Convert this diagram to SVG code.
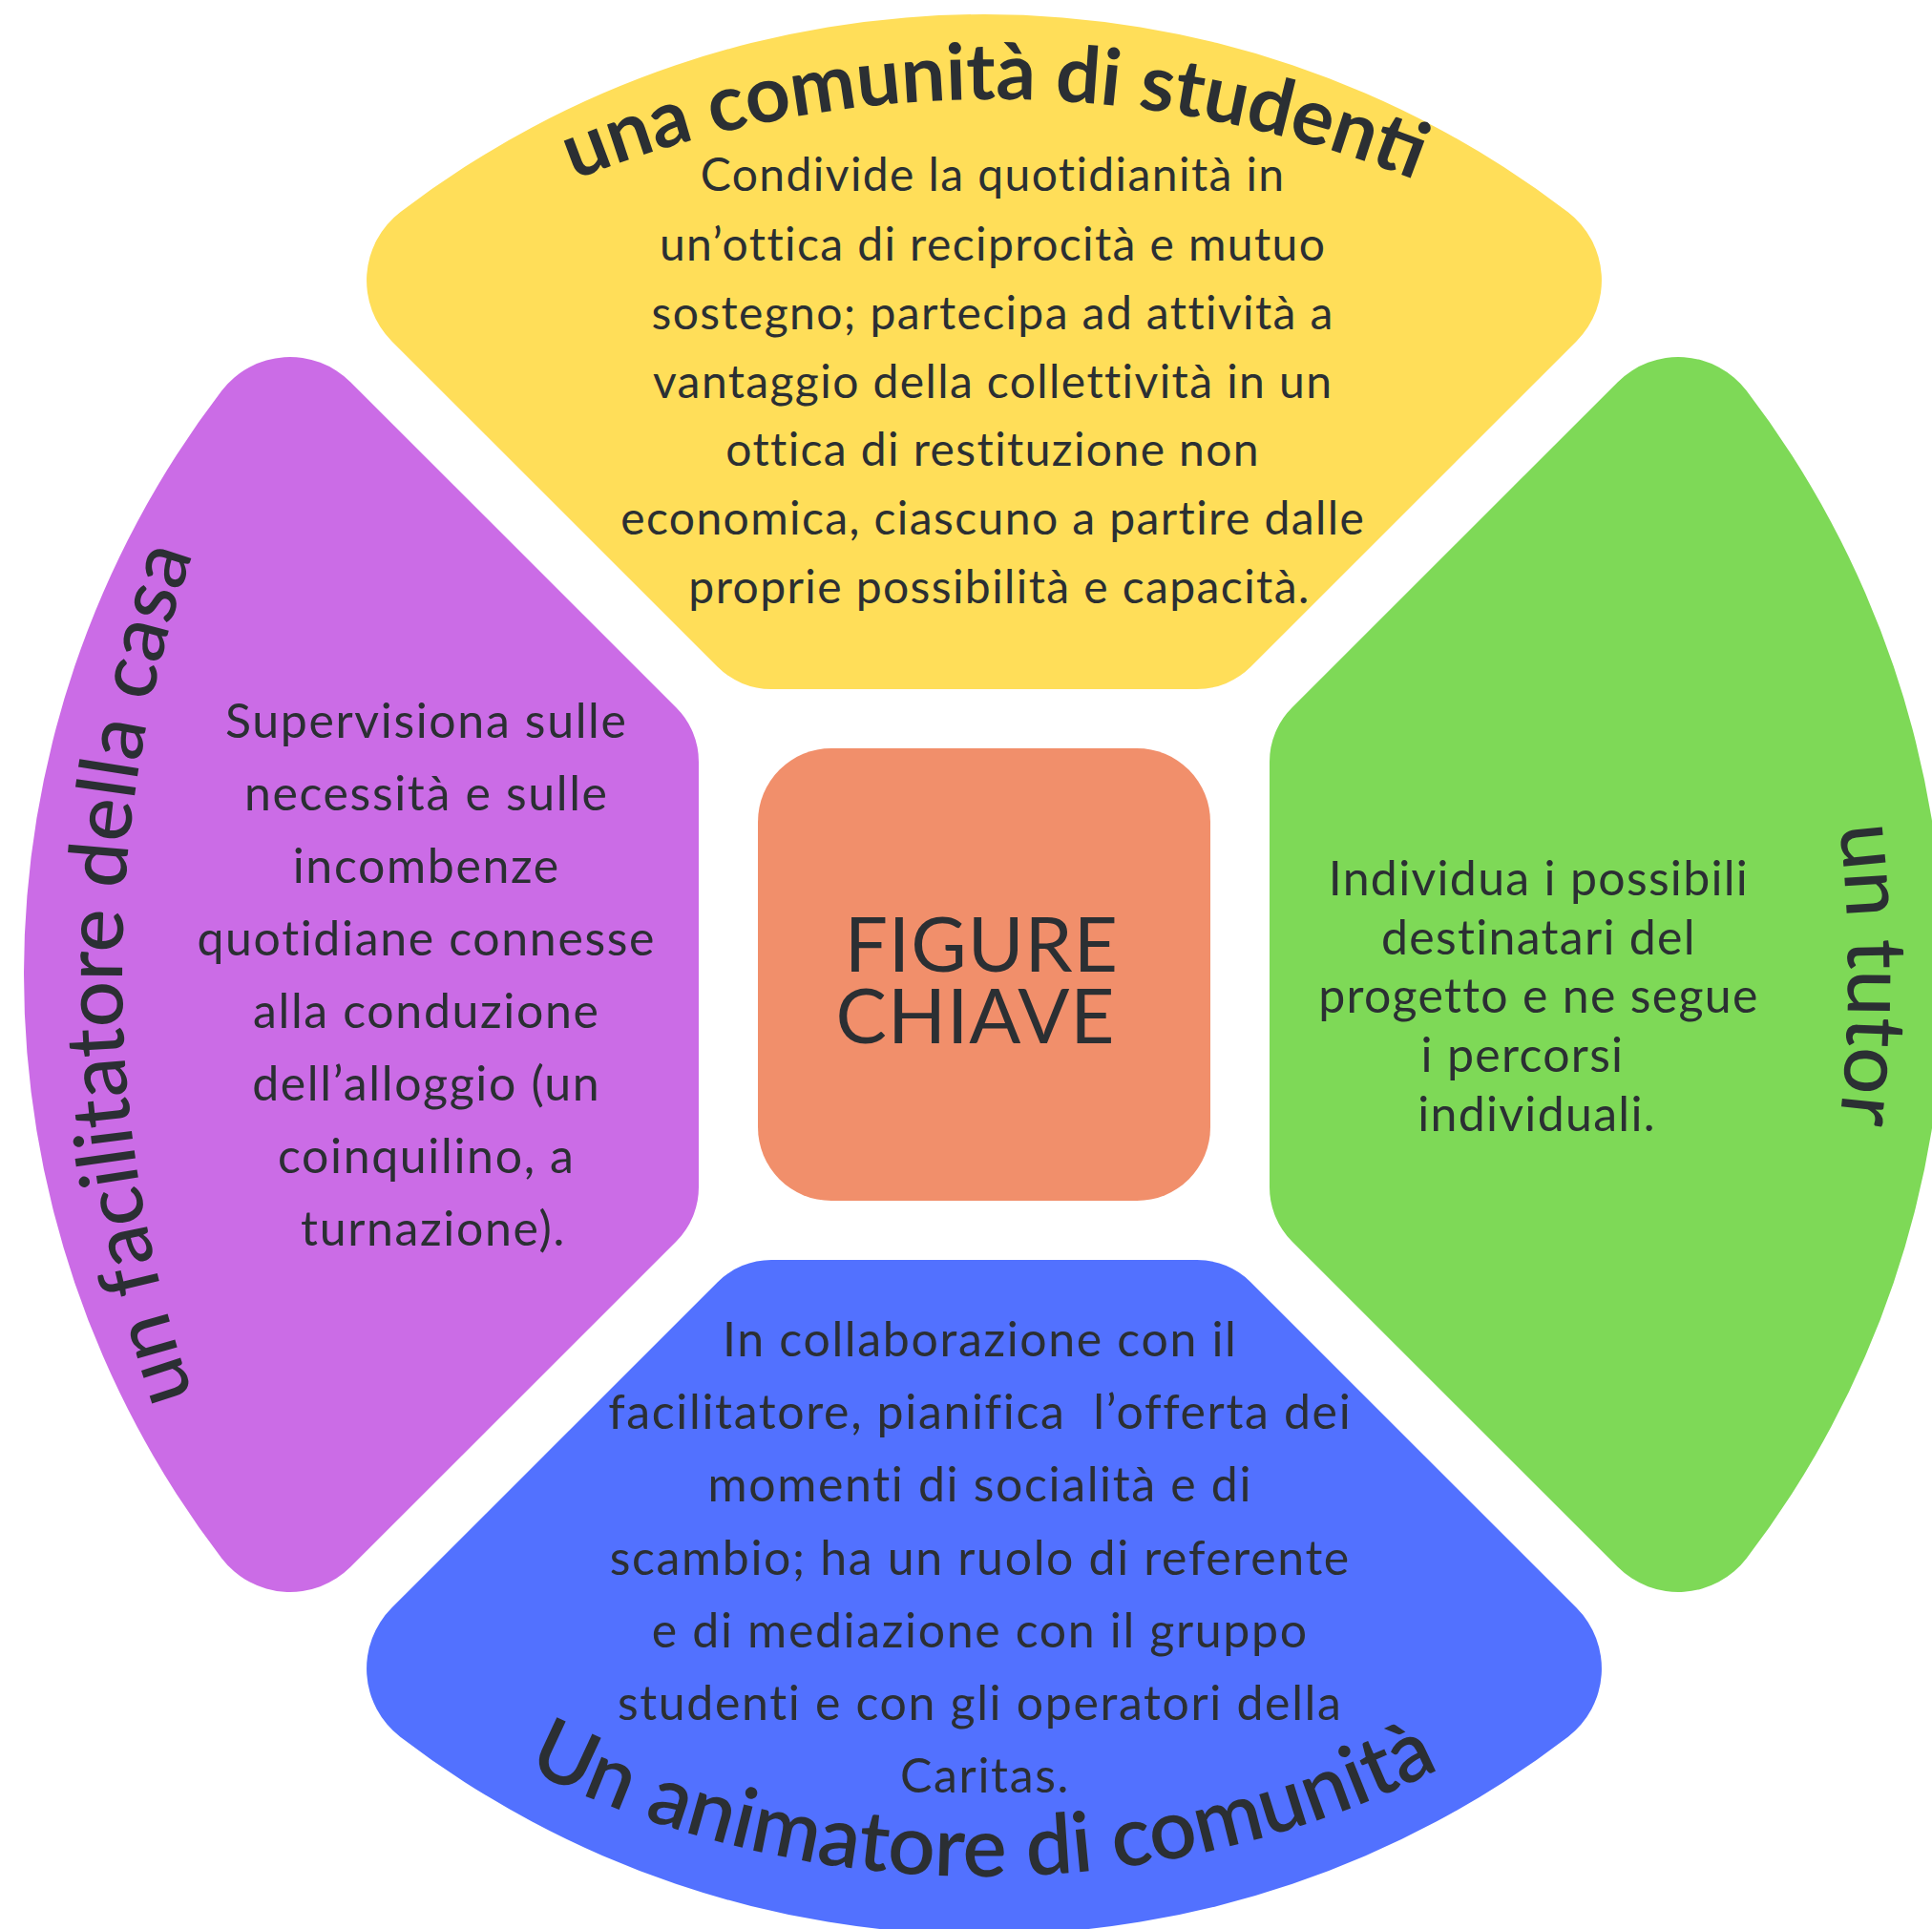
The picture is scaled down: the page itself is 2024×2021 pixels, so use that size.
<svg xmlns="http://www.w3.org/2000/svg" width="2024" height="2021" viewBox="0 0 2024 2021">
<style>
.body{font-family:Lato,"Open Sans","Liberation Sans",sans-serif;font-size:50px;letter-spacing:1.65px;fill:#2B2F33;text-anchor:middle}
.ybody{font-size:48px;letter-spacing:1.4px}
.gbody{letter-spacing:1.3px}
.title{font-family:Lato,"Open Sans","Liberation Sans",sans-serif;fill:#2B2F33;text-anchor:middle}
.key{font-family:Lato,"Open Sans","Liberation Sans",sans-serif;font-size:80px;letter-spacing:1px;fill:#2B2F33;text-anchor:middle}
</style>
<defs>
<path id="petal" d="M -611.67 -798.66 A 1006 1006 0 0 1 611.67 -798.66 A 90 90 0 0 1 620.6 -663.6 L 279.43 -322.43 A 80 80 0 0 1 222.86 -299 L -222.86 -299 A 80 80 0 0 1 -279.43 -322.43 L -620.6 -663.6 A 90 90 0 0 1 -611.67 -798.66 Z"/>
<path id="arcTop" d="M -148 1294 A 1190 1190 0 0 1 2232 1294"/>
<path id="arcBottom" d="M -40 896 A 1070 1070 0 0 0 2100 896"/>
<path id="arcLeft" d="M 1478 2371 A 1350 1350 0 0 1 1478 -329"/>
<path id="arcRight" d="M 586 -329 A 1350 1350 0 0 1 586 2371"/>
</defs>
<rect width="2024" height="2021" fill="#FFFFFF"/>

<g id="node-comunita-studenti">
<use href="#petal" transform="translate(1031 1021)" fill="#FFDE59"/>
<text class="title" font-size="82" font-weight="700"><textPath href="#arcTop" startOffset="50%">una comunità di studenti</textPath></text>
<text class="body ybody">
<tspan x="1047" y="200">Condivide la quotidianità in</tspan>
<tspan x="1047" y="273">un’ottica di reciprocità e mutuo</tspan>
<tspan x="1047" y="345">sostegno; partecipa ad attività a</tspan>
<tspan x="1047" y="417">vantaggio della collettività in un</tspan>
<tspan x="1047" y="488">ottica di restituzione non</tspan>
<tspan x="1047" y="560">economica, ciascuno a partire dalle</tspan>
<tspan x="1047" y="632">proprie possibilità e capacità.</tspan>
</text>
</g>

<g id="node-tutor">
<use href="#petal" transform="translate(1031 1021) rotate(90)" fill="#7ED957"/>
<text class="title" font-size="87" font-weight="500"><textPath href="#arcRight" startOffset="50%">un tutor</textPath></text>
<text class="body gbody">
<tspan x="1619" y="938">Individua i possibili</tspan>
<tspan x="1619" y="1000">destinatari del</tspan>
<tspan x="1619" y="1061">progetto e ne segue</tspan>
<tspan x="1602" y="1123">i percorsi</tspan>
<tspan x="1610" y="1185">individuali.</tspan>
</text>
</g>

<g id="node-animatore">
<use href="#petal" transform="translate(1031 1021) rotate(180)" fill="#5271FF"/>
<text class="title" font-size="87" font-weight="600"><textPath href="#arcBottom" startOffset="50%">Un animatore di comunità</textPath></text>
<text class="body">
<tspan x="1034" y="1421">In collaborazione con il</tspan>
<tspan x="1034" y="1497">facilitatore, pianifica&#160; l’offerta dei</tspan>
<tspan x="1034" y="1573">momenti di socialità e di</tspan>
<tspan x="1034" y="1650">scambio; ha un ruolo di referente</tspan>
<tspan x="1034" y="1726">e di mediazione con il gruppo</tspan>
<tspan x="1034" y="1802">studenti e con gli operatori della</tspan>
<tspan x="1032" y="1878">Caritas.</tspan>
</text>
</g>

<g id="node-facilitatore">
<use href="#petal" transform="translate(1031 1021) rotate(270)" fill="#CB6CE6"/>
<text class="title" font-size="85" font-weight="500"><textPath href="#arcLeft" startOffset="50%">un facilitatore della casa</textPath></text>
<text class="body">
<tspan x="454" y="773">Supervisiona sulle</tspan>
<tspan x="454" y="849">necessità e sulle</tspan>
<tspan x="454" y="925">incombenze</tspan>
<tspan x="454" y="1001">quotidiane connesse</tspan>
<tspan x="454" y="1077">alla conduzione</tspan>
<tspan x="454" y="1153">dell’alloggio (un</tspan>
<tspan x="454" y="1229">coinquilino, a</tspan>
<tspan x="454" y="1305">turnazione).</tspan>
</text>
</g>

<g id="node-figure-chiave">
<rect x="794" y="784" width="474" height="474" rx="77" ry="77" fill="#F18F6B"/>
<text class="key">
<tspan x="1039" y="1018">FIGURE</tspan>
<tspan x="1022" y="1093">CHIAVE</tspan>
</text>
</g>

<g id="connectors"/>
</svg>
